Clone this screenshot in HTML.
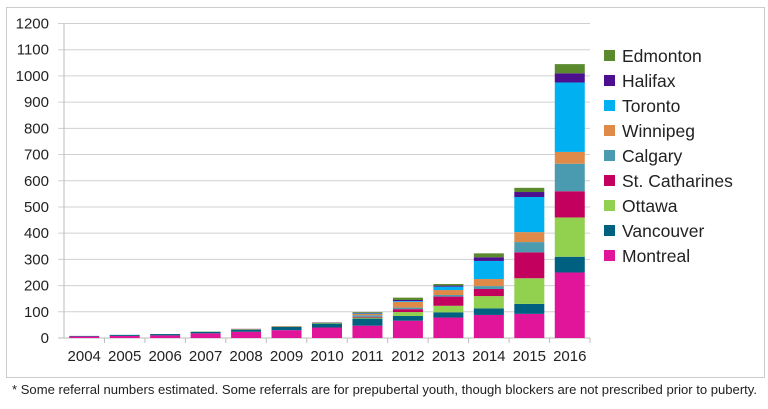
<!DOCTYPE html>
<html><head><meta charset="utf-8"><style>
body{margin:0;background:#fff;width:768px;height:404px;overflow:hidden;font-family:"Liberation Sans",sans-serif}
svg text{font-family:"Liberation Sans",sans-serif;fill:#222}
</style></head><body>
<svg id="c" width="768" height="404">
<rect x="6.5" y="7.5" width="758" height="370" fill="none" stroke="#ccc"/>
<g id="grid"></g><g id="bars"></g><g id="axes"></g><g id="legend"></g>
<text x="12" y="394" font-size="13" textLength="745" lengthAdjust="spacingAndGlyphs">* Some referral numbers estimated. Some referrals are for prepubertal youth, though blockers are not prescribed prior to puberty.</text>
</svg>
<script>
const years=["2004","2005","2006","2007","2008","2009","2010","2011","2012","2013","2014","2015","2016"];
const cities=["Montreal","Vancouver","Ottawa","St. Catharines","Calgary","Winnipeg","Toronto","Halifax","Edmonton"];
const colors=["#e0159a","#00607f","#92d050","#c4005e","#4a9bb0","#e08a4a","#00b0f0","#4b0f8f","#5b8a2e"];
const montreal=[6,8,10,18,24,30,40,47,66,78,88,92,250];
const vancouver=[2,4,5,6,8,12,15,27,18,20,25,38,60];
const ottawa=[0,0,0,1,2,2,3,4,15,25,47,98,150];
const stcatharines=[0,0,0,0,1,1,1,3,11,35,27,99,100];
const calgary=[0,0,0,0,0,0,1,6,6,6,11,39,105];
const winnipeg=[0,0,0,0,0,0,0,5,22,19,27,38,45];
const toronto=[0,0,0,0,0,0,0,2,3,13,69,134,265];
const halifax=[0,0,0,0,0,0,0,2,4,4,14,19,35];
const edmonton=[0,0,0,0,0,0,0,3,9,6,15,16,35];
const series=[montreal,vancouver,ottawa,stcatharines,calgary,winnipeg,toronto,halifax,edmonton];
const yTicks=[0,100,200,300,400,500,600,700,800,900,1000,1100,1200];
const NS="http://www.w3.org/2000/svg";
const x0=64,x1=590,y0=338,yTop=23.5,slot=(x1-x0)/years.length,bw=30;
const y=v=>y0-(v/1200)*(y0-yTop);
const xc=i=>x0+slot*(i+0.5);
function mk(t,a,p){const e=document.createElementNS(NS,t);for(const k in a)e.setAttribute(k,a[k]);p.appendChild(e);return e;}
const G=document.getElementById('grid'),B=document.getElementById('bars'),A=document.getElementById('axes'),L=document.getElementById('legend');
yTicks.forEach(t=>{
 const l=mk('line',{x1:58,x2:x1,y1:y(t),y2:y(t),stroke:t?'#d0d0d0':'#bbb'},G);
 
 
 const tx=mk('text',{x:49,y:y(t)+5,'text-anchor':'end','font-size':15},A);tx.textContent=t;
 
 
});
const ax=mk('line',{x1:x0,x2:x0,y1:yTop,y2:y0,stroke:'#bbb'},A);


years.forEach((yr,i)=>{
 let acc=0;
 series.forEach((s,j)=>{
  const v=s[i];if(v<=0)return;
  const r=mk('rect',{x:xc(i)-bw/2,y:y(acc+v),width:bw,height:y(acc)-y(acc+v),fill:colors[j]},B);
  
  
  acc+=v;
 });
 const tk=mk('line',{x1:x0+slot*(i+1),x2:x0+slot*(i+1),y1:y0,y2:y0+5,stroke:'#bbb'},A);
 
 
 const t=mk('text',{x:xc(i),y:361,'text-anchor':'middle','font-size':15},A);t.textContent=yr;
 
 
});
for(let j=cities.length-1,k=0;j>=0;j--,k++){
 const yy=56+k*25;
 const g=mk('g',{},L);
 
 
 mk('rect',{x:604,y:yy-6,width:11,height:11,fill:colors[j]},g);
 const t=mk('text',{x:622,y:yy+6,'font-size':17.5},g);t.textContent=cities[j];
}
</script>
</body></html>
